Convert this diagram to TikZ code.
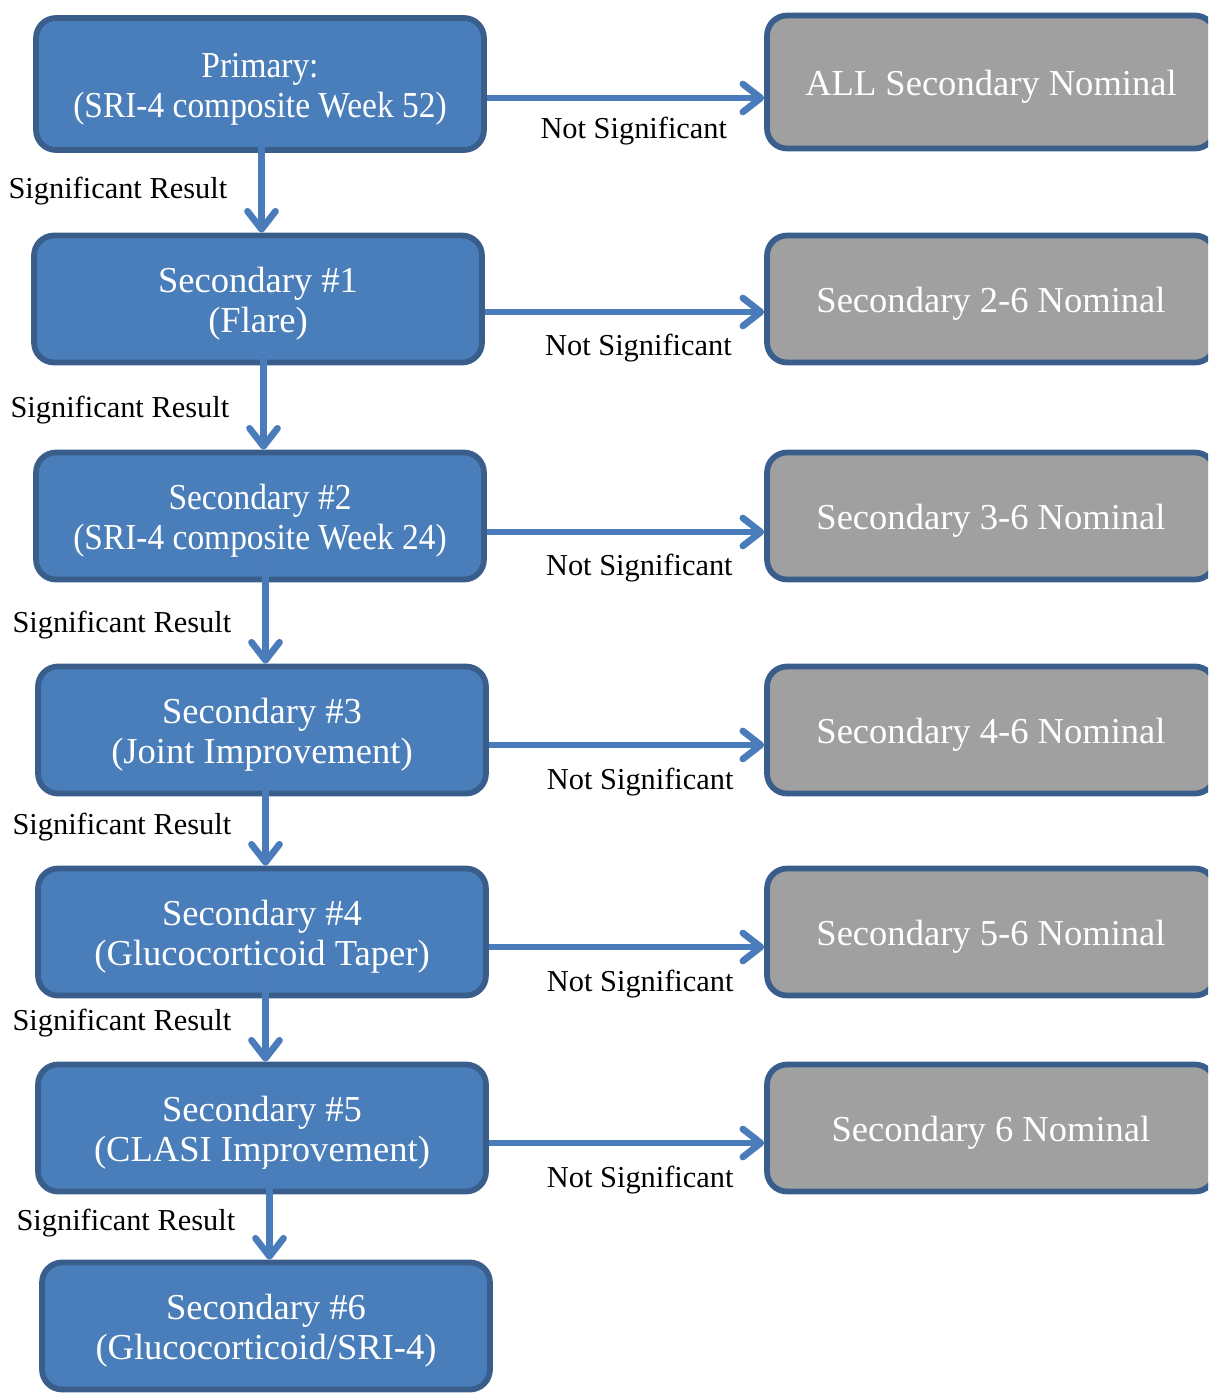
\documentclass[tikz,border=0pt]{standalone}
\usepackage{fontspec}
\setmainfont{Liberation Serif}
\newfontfamily\narrowserif{Liberation Serif}[FakeStretch=0.915]
\usetikzlibrary{arrows.meta,positioning}

\definecolor{boxblue}{HTML}{4A7EBA}
\definecolor{boxedge}{HTML}{3A5E8C}
\definecolor{boxgray}{HTML}{A0A0A0}
\definecolor{flowblue}{HTML}{4A7BBA}

\tikzset{
	tile/.style={draw=boxedge,line width=3.3pt,rounded corners=0.4cm,text=white,align=center,
		minimum width=8.96cm,minimum height=2.54cm,font=\fontsize{20.8}{22.8}\selectfont},
	stage/.style={tile,fill=boxblue,execute at begin node={\rule{0pt}{42.8pt}}},
	narrow/.style={font=\narrowserif\fontsize{20.8}{22.8}\selectfont},
	nominal/.style={tile,fill=boxgray,execute at begin node={\rule{0pt}{20pt}}},
	flow/.style={draw=flowblue,line width=3.8pt,-{Straight Barb[length=0.36cm,width=0.56cm,round]}},
	verdict/.style={inner sep=0pt,font=\fontsize{17.3}{20}\selectfont}
}

\begin{document}
\begin{tikzpicture}[x=0.02cm,y=-0.02cm]
	\useasboundingbox (0,0) rectangle (1208,1393);
	\clip (0,0) rectangle (1208,1393);
	% testing chain
	\node[stage,narrow,minimum height=2.64cm] (p) at (260,84) {Primary:\\(SRI-4 composite Week 52)};
	\node[stage] (s1) at (258,299) {Secondary \#1\\(Flare)};
	\node[stage,narrow] (s2) at (260,516) {Secondary \#2\\(SRI-4 composite Week 24)};
	\node[stage] (s3) at (262,730) {Secondary \#3\\(Joint Improvement)};
	\node[stage] (s4) at (262,932) {Secondary \#4\\(Glucocorticoid Taper)};
	\node[stage] (s5) at (262,1128) {Secondary \#5\\(CLASI Improvement)};
	\node[stage] (s6) at (266,1326) {Secondary \#6\\(Glucocorticoid/SRI-4)};
	% nominal outcomes
	\node[nominal,minimum height=2.66cm] (n0) at (991,82) {ALL Secondary Nominal};
	\node[nominal] (n1) at (991,299) {Secondary 2-6 Nominal};
	\node[nominal] (n2) at (991,516) {Secondary 3-6 Nominal};
	\node[nominal] (n3) at (991,730) {Secondary 4-6 Nominal};
	\node[nominal] (n4) at (991,932) {Secondary 5-6 Nominal};
	\node[nominal] (n5) at (991,1128) {Secondary 6 Nominal};

	\draw[flow] ([xshift=0.07cm,yshift=0.32cm]s1.north |- p.south) -- node[verdict,left=0.62cm,yshift=-0.12cm] (sr1) {Significant Result} ([xshift=0.07cm]s1.north);
	\draw[flow] ([xshift=0.07cm,yshift=0.24cm]s2.north |- s1.south) -- node[verdict,left=0.62cm,yshift=-0.18cm] (sr2) {Significant Result} ([xshift=0.07cm]s2.north);
	\draw[flow] ([xshift=0.07cm,yshift=0.5cm]s3.north |- s2.south) -- node[verdict,left=0.62cm,yshift=-0.3cm] (sr3) {Significant Result} ([xshift=0.07cm]s3.north);
	\draw[flow] ([xshift=0.07cm,yshift=0.5cm]s4.north |- s3.south) -- node[verdict,left=0.62cm,yshift=-0.18cm] (sr4) {Significant Result} ([xshift=0.07cm]s4.north);
	\draw[flow] ([xshift=0.07cm,yshift=0.6cm]s5.north |- s4.south) -- node[verdict,left=0.62cm,yshift=-0.16cm] (sr5) {Significant Result} ([xshift=0.07cm]s5.north);
	\draw[flow] ([xshift=0.07cm,yshift=0.54cm]s6.north |- s5.south) -- node[verdict,left=0.62cm,yshift=-0.2cm] (sr6) {Significant Result} ([xshift=0.07cm]s6.north);

	\draw[flow] ([yshift=-0.28cm]p.east) -- node[verdict,pos=0.53,yshift=-0.66cm] (ns0) {Not Significant} ([yshift=-0.28cm]p.east -| n0.west);
	\draw[flow] ([yshift=-0.26cm]s1.east) -- node[verdict,pos=0.55,yshift=-0.73cm] (ns1) {Not Significant} ([yshift=-0.26cm]s1.east -| n1.west);
	\draw[flow] ([yshift=-0.32cm]s2.east) -- node[verdict,pos=0.55,yshift=-0.72cm] (ns2) {Not Significant} ([yshift=-0.32cm]s2.east -| n2.west);
	\draw[flow] ([yshift=-0.3cm]s3.east) -- node[verdict,pos=0.55,yshift=-0.75cm] (ns3) {Not Significant} ([yshift=-0.3cm]s3.east -| n3.west);
	\draw[flow] ([yshift=-0.3cm]s4.east) -- node[verdict,pos=0.55,yshift=-0.75cm] (ns4) {Not Significant} ([yshift=-0.3cm]s4.east -| n4.west);
	\draw[flow] ([yshift=-0.3cm]s5.east) -- node[verdict,pos=0.55,yshift=-0.75cm] (ns5) {Not Significant} ([yshift=-0.3cm]s5.east -| n5.west);
\end{tikzpicture}
\end{document}
